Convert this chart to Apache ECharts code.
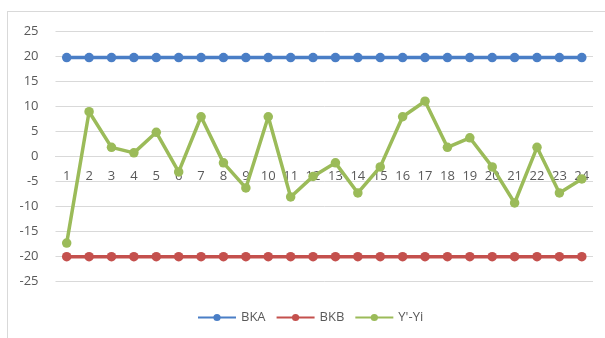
<!DOCTYPE html>
<html>
<head>
<meta charset="utf-8">
<script src="https://cdn.jsdelivr.net/npm/echarts@6/dist/echarts.min.js"></script>
<style>
html,body{margin:0;padding:0;background:#fff;}
#frame{position:absolute;left:7px;top:11px;width:640px;height:400px;border-left:1px solid #d9d9d9;border-top:1px solid #d9d9d9;}
#chart{position:absolute;left:0;top:0;width:605px;height:338px;}
</style>
</head>
<body>
<div id="frame"></div>
<div id="chart"></div>
<script>
const categories = ['1','2','3','4','5','6','7','8','9','10','11','12','13','14','15','16','17','18','19','20','21','22','23','24'];
const bka = [19.7,19.7,19.7,19.7,19.7,19.7,19.7,19.7,19.7,19.7,19.7,19.7,19.7,19.7,19.7,19.7,19.7,19.7,19.7,19.7,19.7,19.7,19.7,19.7];
const bkb = [-20,-20,-20,-20,-20,-20,-20,-20,-20,-20,-20,-20,-20,-20,-20,-20,-20,-20,-20,-20,-20,-20,-20,-20];
const diff = [-17.3,8.9,1.8,0.7,4.8,-3.1,7.9,-1.3,-6.3,7.9,-8.1,-4,-1.3,-7.3,-2.1,7.9,11,1.8,3.7,-2.1,-9.3,1.8,-7.3,-4.5];
const seriesNames = ['BKA','BKB',"Y'-Yi"];
const colors = ['#4a7ec6','#c4504d','#9bbb59'];
const font = 'Open Sans';

const chart = echarts.init(document.getElementById('chart'), null, {renderer:'canvas'});
function mk(name, data, color, z){
  return {name:name, type:'line', data:data, symbol:'circle', symbolSize:9.5, z:z,
    lineStyle:{color:color, width:3.5}, itemStyle:{color:color}, emphasis:{disabled:true}, animation:false};
}
chart.setOption({
  animation:false,
  textStyle:{fontFamily:font},
  grid:{left:55.5, right:12, top:31, bottom:56.3, containLabel:false},
  xAxis:{type:'category', data:categories, boundaryGap:true, position:'bottom', offset:-125.7,
    axisLine:{onZero:false, lineStyle:{color:'#d9d9d9', width:1}},
    axisTick:{show:false},
    axisLabel:{color:'#595959', fontSize:13, fontFamily:font, margin:14, interval:0},
    splitLine:{show:false}},
  yAxis:{type:'value', min:-25, max:25, interval:5,
    axisLine:{show:false}, axisTick:{show:false},
    axisLabel:{color:'#595959', fontSize:13, fontFamily:font, margin:17},
    splitLine:{lineStyle:{color:'#d9d9d9', width:1}}},
  legend:{data:seriesNames, left:192, top:306, itemWidth:38, itemHeight:9, itemGap:10,
    textStyle:{color:'#595959', fontSize:13, fontFamily:font}, selectedMode:false},
  series:[mk(seriesNames[0], bka, colors[0], 2), mk(seriesNames[1], bkb, colors[1], 3), mk(seriesNames[2], diff, colors[2], 4)]
});
</script>
</body>
</html>
